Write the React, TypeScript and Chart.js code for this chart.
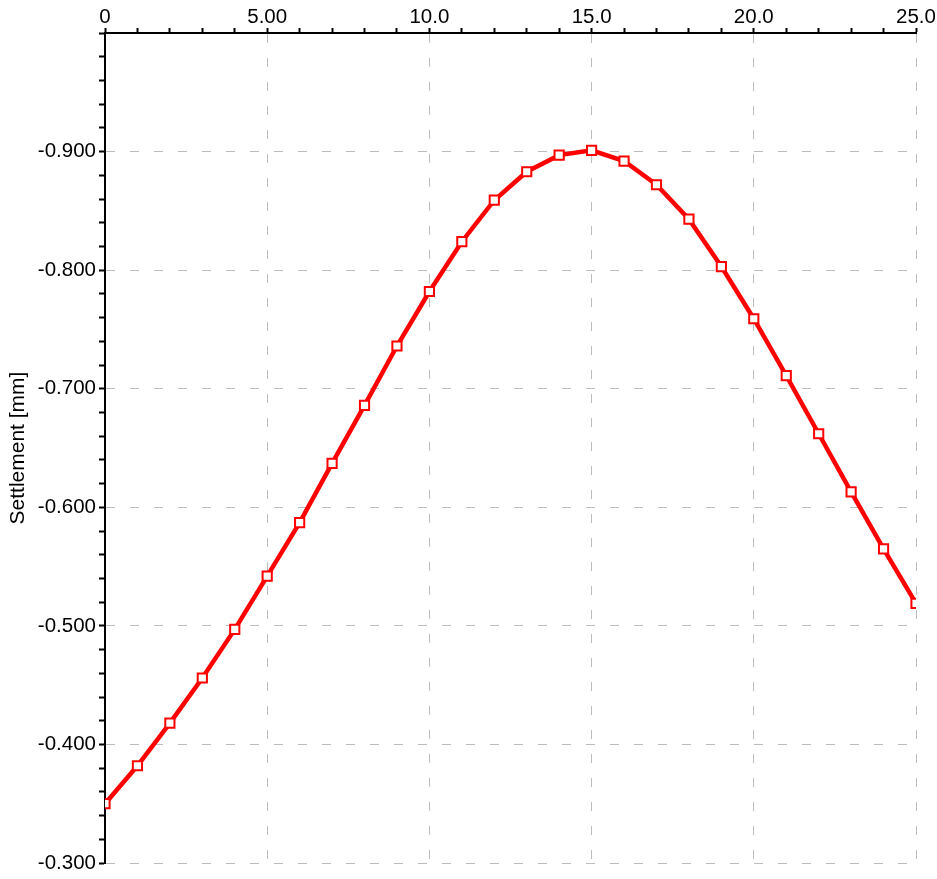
import React, { useEffect, useRef } from "react";
import { Chart, registerables } from "chart.js";

Chart.register(...registerables);

const distances = [0, 1, 2, 3, 4, 5, 6, 7, 8, 9, 10, 11, 12, 13, 14, 15, 16, 17, 18, 19, 20, 21, 22, 23, 24, 25];
const settlement = [
  -0.350, -0.382, -0.418, -0.456, -0.497, -0.542, -0.587, -0.637, -0.686, -0.736,
  -0.782, -0.824, -0.859, -0.883, -0.897, -0.901, -0.892, -0.872, -0.843, -0.803,
  -0.759, -0.711, -0.662, -0.613, -0.565, -0.519,
];
const xTickLabels: Record<number, string> = { 0: "0", 5: "5.00", 10: "10.0", 15: "15.0", 20: "20.0", 25: "25.0" };
const yAxisTitle = "Settlement [mm]";

const FONT = "'Liberation Sans', Arial, sans-serif";

function isMajorY(v: number) {
  return Math.abs(v * 10 - Math.round(v * 10)) < 1e-6;
}

export default function App() {
  const ref = useRef<HTMLCanvasElement | null>(null);
  useEffect(() => {
    if (!ref.current) return;
    const chart = new Chart(ref.current, {
      type: "line",
      data: {
        datasets: [
          {
            data: distances.map((x, i) => ({ x, y: settlement[i] })),
            borderColor: "#ff0000",
            borderWidth: 4.5,
            pointStyle: "rect",
            pointRadius: 6.5,
            pointBorderWidth: 2,
            pointBackgroundColor: "#ffffff",
            pointBorderColor: "#ff0000",
            tension: 0,
          },
        ],
      },
      options: {
        animation: false,
        responsive: false,
        maintainAspectRatio: false,
        layout: { padding: { left: 0, right: 21, top: 0, bottom: 16 } },
        plugins: { legend: { display: false }, tooltip: { enabled: false } },
        scales: {
          x: {
            type: "linear",
            position: "top",
            min: 0,
            max: 25,
            afterFit: (s: any) => { s.height = 33; },
            ticks: {
              stepSize: 1,
              autoSkip: false,
              maxRotation: 0,
              padding: -2,
              color: "#000",
              font: { family: FONT, size: 20.5 },
              callback: (v: any) => (xTickLabels[Math.round(v)] !== undefined && Math.abs(v - Math.round(v)) < 1e-6 ? xTickLabels[Math.round(v)] : ""),
            },
            grid: {
              color: (c: any) => (c.tick && Math.round(c.tick.value) % 5 === 0 ? "#bdbdbd" : "rgba(0,0,0,0)"),
              lineWidth: 1,
              tickColor: "#000",
              tickLength: 5,
              tickWidth: 2,
            },
            border: { display: true, color: "#000", width: 2, dash: [9, 15] },
          },
          y: {
            type: "linear",
            position: "left",
            reverse: true,
            min: -1.0,
            max: -0.3,
            afterFit: (s: any) => { s.width = 105; },
            title: {
              display: true,
              text: yAxisTitle,
              color: "#000",
              font: { family: FONT, size: 21 },
              padding: { top: 6, bottom: 0 },
            },
            ticks: {
              stepSize: 0.02,
              autoSkip: false,
              padding: 3,
              color: "#000",
              font: { family: FONT, size: 20.5 },
              callback: (v: any) => (isMajorY(v) && Math.abs(v + 1) > 1e-6 ? Number(v).toFixed(3) : ""),
            },
            grid: {
              color: (c: any) => (c.tick && isMajorY(c.tick.value) ? "#bdbdbd" : "rgba(0,0,0,0)"),
              lineWidth: 1,
              tickColor: "#000",
              tickLength: 6,
              tickWidth: 2,
            },
            border: { display: true, color: "#000", width: 2, dash: [9, 15] },
          },
        },
      },
    });
    return () => chart.destroy();
  }, []);
  return (
    <div style={{ position: "absolute", left: 0, top: 0, width: 937, height: 879, background: "#fff" }}>
      <canvas ref={ref} width={937} height={879} style={{ display: "block" }} />
    </div>
  );
}
